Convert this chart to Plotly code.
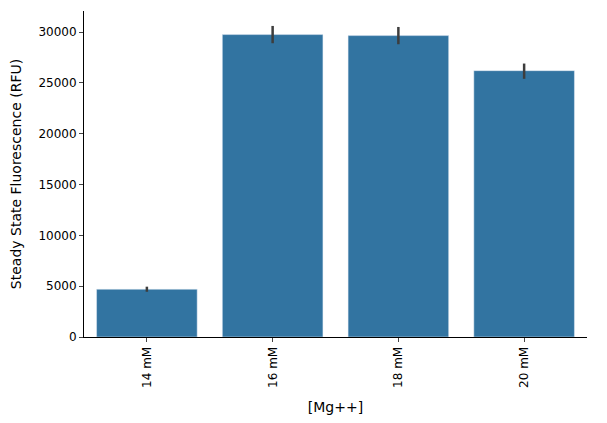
import plotly.graph_objects as go

categories = ["14 mM", "16 mM", "18 mM", "20 mM"]
values = [4700, 29750, 29650, 26200]
err_plus = [250, 850, 850, 700]
err_minus = [250, 850, 850, 800]

fig = go.Figure(go.Bar(
    x=categories, y=values, marker_color="#3274a1", width=0.8,
    error_y=dict(type="data", array=err_plus, arrayminus=err_minus,
                 color="#3d3d3d", thickness=2.5, width=0),
))
fig.update_layout(
    width=607, height=423, plot_bgcolor="white", paper_bgcolor="white",
    margin=dict(l=76, r=28, t=3, b=94),
    font=dict(family="DejaVu Sans", size=12, color="black"),
    showlegend=False,
)
fig.update_xaxes(title_text="[Mg++]", tickangle=-90, showline=True, linecolor="black",
                 ticks="outside", ticklen=4, range=[-0.5, 3.5])
fig.update_yaxes(title_text="Steady State Fluorescence (RFU)", range=[0, 32070],
                 dtick=5000, showline=True, linecolor="black", ticks="outside",
                 ticklen=4, showgrid=False, zeroline=False, tickformat="d")
fig.write_html("out.html")
